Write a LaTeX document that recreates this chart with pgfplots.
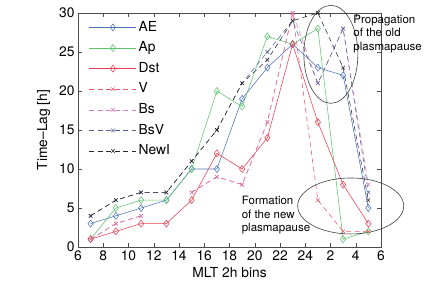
\documentclass[border=0pt]{standalone}
\usepackage{fontspec}
\setmainfont{TeX Gyre Heros}
\usepackage{pgfplots}
\pgfplotsset{compat=1.18}

\definecolor{cAE}{RGB}{75,115,185}
\definecolor{cAp}{RGB}{95,195,110}
\definecolor{cDst}{RGB}{235,60,80}
\definecolor{cV}{RGB}{235,85,105}
\definecolor{cBs}{RGB}{215,125,190}
\definecolor{cBsV}{RGB}{85,95,155}
\definecolor{cNew}{RGB}{40,40,45}

\newcommand{\lblfont}{\fontsize{13.8}{16}\selectfont}

\begin{document}
\begin{tikzpicture}
\begin{axis}[
  name=ax,
  scale only axis,
  width=303pt, height=234pt,
  xmin=6, xmax=30, ymin=0, ymax=30,
  xtick={6,8,...,30},
  xticklabels={6,8,10,12,14,16,18,20,22,24,2,4,6},
  ytick={0,5,...,30},
  tick align=inside, xtick pos=both, ytick pos=both,
  major tick length=4pt,
  tick style={color=black!70, line width=0.4pt},
  axis line style={black!70, line width=0.5pt},
  ticklabel style={font=\lblfont},
  /pgf/number format/assume math mode=true,
  xlabel={MLT 2h bins}, ylabel={Time--Lag [h]},
  label style={font=\lblfont},
  ylabel style={yshift=2pt},
  unbounded coords=jump,
  clip=false,
  every axis plot/.append style={line width=0.55pt},
  legend cell align=left,
  legend style={at={(0,1)}, anchor=north west, xshift=8pt, yshift=-4pt,
    draw=none, fill=white, font=\lblfont, row sep=4.1pt,
    nodes={inner sep=2pt, text height=10pt, text depth=2.5pt}},
  legend image code/.code={
    \draw[mark repeat=2, mark phase=2, #1]
      plot coordinates {(0pt,0pt) (23.5pt,0pt) (47pt,0pt)};},
]
% index-based lags
\addplot[cAE, mark=diamond, mark size=3.5pt, mark options={solid, fill=none}]
  coordinates {(7,3) (9,4) (11,5) (13,6) (15,10) (17,10) (19,19) (21,23) (23,26) (25,23) (27,22) (29,5)};
\addplot[cAp, mark=diamond, mark size=3.5pt, mark options={solid, fill=none}]
  coordinates {(7,1) (9,5) (11,6) (13,6) (15,10) (17,20) (19,18) (21,27) (23,26) (25,28) (27,1) (29,2)};
\addplot[cDst, mark=diamond, mark size=3.5pt, mark options={solid, fill=none}]
  coordinates {(7,1) (9,2) (11,3) (13,3) (15,6) (17,12) (19,10) (21,14) (23,26) (25,16) (27,8) (29,3)};
% solar-wind driven lags
\addplot[cV, dash pattern=on 5pt off 3.5pt, mark=x, mark size=2.5pt, mark options={solid}]
  coordinates {(7,1) (9,3) (11,4) (13,nan) (15,7) (17,9) (19,8) (21,16) (23,30) (25,6) (27,2) (29,2)};
\addplot[cBs, dash pattern=on 5pt off 3.5pt, mark=x, mark size=2.5pt, mark options={solid}]
  coordinates {(7,1) (9,3) (11,4) (13,nan) (15,7) (17,9) (19,8) (21,16) (23,30) (25,21) (27,28) (29,8)};
\addplot[cBsV, dash pattern=on 5pt off 3.5pt, mark=x, mark size=2.5pt, mark options={solid}]
  coordinates {(7,4) (9,6) (11,7) (13,7) (15,11) (17,15) (19,21) (21,25) (23,29) (25,21) (27,28) (29,7)};
\addplot[cNew, dash pattern=on 5pt off 3.5pt, mark=x, mark size=2.5pt, mark options={solid}]
  coordinates {(7,4) (9,6) (11,7) (13,7) (15,11) (17,15) (19,21) (21,24) (23,29) (25,30) (27,23) (29,6)};
\legend{AE,Ap,Dst,V,Bs,BsV,NewI}

% highlighted regions
\draw[black!75, line width=0.6pt] (axis cs:26.03,24.7) ellipse [x radius=27pt, y radius=49pt];
\draw[black!75, line width=0.6pt] (axis cs:27.6,5.26) ellipse [x radius=53pt, y radius=28pt];
\node[anchor=north west, inner sep=0pt, align=left,
      font=\fontsize{11.5}{13.5}\selectfont]
  at (axis cs:27.8,29.8) {Propagation\\of the old\\plasmapause};
\node[anchor=north west, inner sep=0pt, align=left,
      font=\fontsize{11.5}{13.5}\selectfont]
  at (axis cs:18.96,6.5) {Formation\\of the new\\plasmapause};
\end{axis}
\pgfresetboundingbox
\path[use as bounding box] (ax.south west) ++(-78pt,-52pt) rectangle ++(434pt,299pt);
\end{tikzpicture}
\end{document}
